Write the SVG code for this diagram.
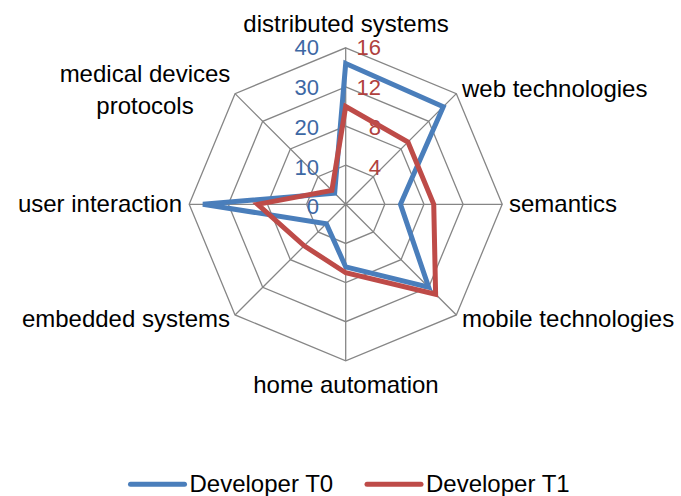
<svg xmlns="http://www.w3.org/2000/svg" width="681" height="496" viewBox="0 0 681 496">
  <style>
    .grid { fill: none; stroke: #868686; stroke-width: 1.3; }
    .lbl { font-family: "Liberation Sans", Arial, sans-serif; font-size: 24px; fill: #000; }
    .num { font-family: "Liberation Sans", Arial, sans-serif; font-size: 22px; }
    .nb { fill: #3D68A4; text-anchor: end; }
    .nr { fill: #B0413E; text-anchor: end; }
    .s0 { fill: none; stroke: #4A7EBB; stroke-width: 5; stroke-linejoin: miter; }
    .s1 { fill: none; stroke: #BE4B48; stroke-width: 5; stroke-linejoin: miter; }
    .leg0 { stroke: #4A7EBB; stroke-width: 5; stroke-linecap: round; }
    .leg1 { stroke: #BE4B48; stroke-width: 5; stroke-linecap: round; }
  </style>
  <rect width="681" height="496" fill="#fff"/>
  <g id="grid" transform="translate(345.7 204.3)">
    <polygon class="grid" points="0,-156.5 110.66,-110.66 156.5,0 110.66,110.66 0,156.5 -110.66,110.66 -156.5,0 -110.66,-110.66"/>
    <polygon class="grid" points="0,-117.38 83,-83 117.38,0 83,83 0,117.38 -83,83 -117.38,0 -83,-83"/>
    <polygon class="grid" points="0,-78.25 55.33,-55.33 78.25,0 55.33,55.33 0,78.25 -55.33,55.33 -78.25,0 -55.33,-55.33"/>
    <polygon class="grid" points="0,-39.13 27.67,-27.67 39.13,0 27.67,27.67 0,39.13 -27.67,27.67 -39.13,0 -27.67,-27.67"/>
    <path class="grid" d="M0,0V-156.5M0,0L110.66,-110.66M0,0H156.5M0,0L110.66,110.66M0,0V156.5M0,0L-110.66,110.66M0,0H-156.5M0,0L-110.66,-110.66"/>
  </g>
  <g id="axis-labels" class="num">
    <text class="nb" x="319" y="55">40</text>
    <text class="nb" x="319" y="95">30</text>
    <text class="nb" x="319" y="135">20</text>
    <text class="nb" x="319" y="175">10</text>
    <text class="nb" x="319" y="214">0</text>
    <text class="nr" x="381" y="55">16</text>
    <text class="nr" x="381" y="95">12</text>
    <text class="nr" x="381" y="135">8</text>
    <text class="nr" x="381" y="175">4</text>
  </g>
  <g id="series" transform="translate(345.7 204.3)">
    <polygon id="developer-t0" class="s0" points="0,-140.85 97.58,-97.58 54.78,0 83,83 0,62.6 -19.37,19.37 -142.8,0 -11.07,-11.07"/>
    <polygon id="developer-t1" class="s1" points="0,-97.81 62.25,-62.25 88.03,0 89.92,89.92 0,68.47 -41.5,41.5 -88.03,0 -13.83,-13.83"/>
  </g>
  <g id="category-labels" class="lbl">
    <text id="cat-distributed" x="346" y="32" text-anchor="middle">distributed systems</text>
    <text id="cat-web" x="462" y="97">web technologies</text>
    <text id="cat-semantics" x="509" y="212">semantics</text>
    <text id="cat-mobile" x="462" y="327">mobile technologies</text>
    <text id="cat-home" x="346" y="393" text-anchor="middle">home automation</text>
    <text id="cat-embedded" x="230" y="327" text-anchor="end">embedded systems</text>
    <text id="cat-user" x="182" y="212" text-anchor="end">user interaction</text>
    <text id="cat-medical" x="145" y="82" text-anchor="middle">medical devices<tspan x="145" y="113.5">protocols</tspan></text>
  </g>
  <g id="legend">
    <line class="leg0" x1="130.5" y1="484.3" x2="184.5" y2="484.3"/>
    <text class="lbl" x="189.5" y="492">Developer T0</text>
    <line class="leg1" x1="367" y1="484.3" x2="421" y2="484.3"/>
    <text class="lbl" x="426" y="492">Developer T1</text>
  </g>
</svg>
